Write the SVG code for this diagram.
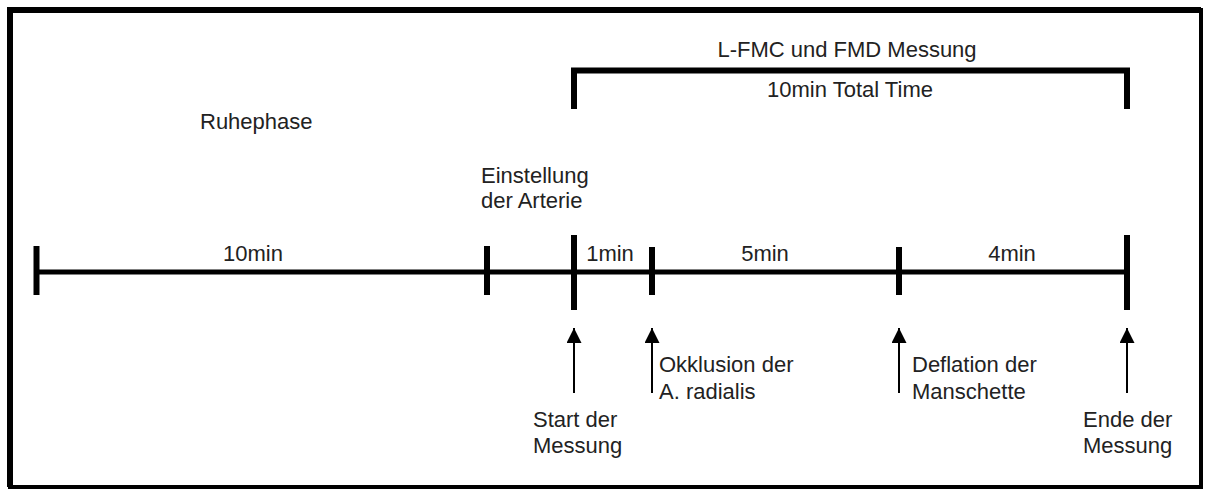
<svg xmlns="http://www.w3.org/2000/svg" width="1205" height="490" viewBox="0 0 1205 490">
<style>
text{font-family:"Liberation Sans",Arial,sans-serif;font-size:22px;fill:#222}
.ln{stroke:#000;stroke-width:5;fill:none}
.tk{stroke:#000;stroke-width:6;fill:none}
.ar{stroke:#000;stroke-width:2;fill:none;marker-end:url(#ah)}
.m{text-anchor:middle}
</style>
<defs>
<marker id="ah" viewBox="0 0 10 10" refX="10" refY="5" markerWidth="15" markerHeight="15" markerUnits="userSpaceOnUse" orient="auto">
<path d="M0,0 L10,5 L0,10 z" fill="#000"/>
</marker>
</defs>
<rect x="0" y="0" width="1205" height="490" fill="#fff"/>
<g id="frame">
<path d="M10,487 V10 H1201" stroke="#000" stroke-width="6" fill="none"/>
<path d="M1201,8 V487 H8" stroke="#000" stroke-width="4" fill="none"/>
</g>
<g id="connectors">
<line class="ln" x1="36" y1="272" x2="1127" y2="272"/>
<line class="tk" x1="36.5" y1="246" x2="36.5" y2="295"/>
<line class="tk" x1="487" y1="246" x2="487" y2="295"/>
<line class="tk" x1="574" y1="235" x2="574" y2="310"/>
<line class="tk" x1="652" y1="247" x2="652" y2="295"/>
<line class="tk" x1="899" y1="247" x2="899" y2="295"/>
<line class="tk" x1="1127" y1="235" x2="1127" y2="310"/>
<path class="tk" d="M574,109 V70.5 H1127 V109"/>
<line class="ar" x1="574" y1="393" x2="574" y2="328"/>
<line class="ar" x1="652" y1="393" x2="652" y2="328"/>
<line class="ar" x1="899" y1="393" x2="899" y2="328"/>
<line class="ar" x1="1127" y1="393" x2="1127" y2="328"/>
</g>
<g id="ruhephase"><text x="200" y="129">Ruhephase</text></g>
<g id="messung-title"><text class="m" x="847" y="57">L-FMC und FMD Messung</text></g>
<g id="total-time"><text class="m" x="850" y="97">10min Total Time</text></g>
<g id="einstellung"><text x="481" y="183">Einstellung</text><text x="481" y="208">der Arterie</text></g>
<g id="d10"><text class="m" x="253" y="261">10min</text></g>
<g id="d1"><text class="m" x="610" y="261">1min</text></g>
<g id="d5"><text class="m" x="765" y="261">5min</text></g>
<g id="d4"><text class="m" x="1012" y="261">4min</text></g>
<g id="start"><text x="533" y="427">Start der</text><text x="533" y="453">Messung</text></g>
<g id="okklusion"><text x="659" y="372">Okklusion der</text><text x="659" y="399">A. radialis</text></g>
<g id="deflation"><text x="912" y="372">Deflation der</text><text x="912" y="399">Manschette</text></g>
<g id="ende"><text x="1083" y="427">Ende der</text><text x="1083" y="453">Messung</text></g>
</svg>
